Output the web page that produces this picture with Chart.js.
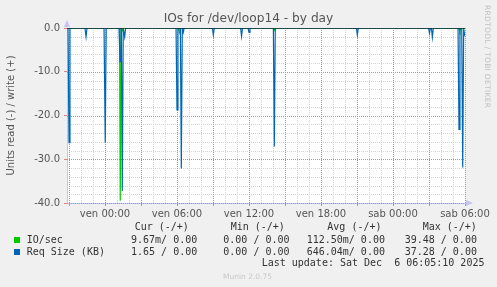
<!DOCTYPE html>
<html lang="it">
<head>
<meta charset="UTF-8">
<title>IOs for /dev/loop14 - by day</title>
<script src="https://cdn.jsdelivr.net/npm/chart.js"></script>
<style>
    body { margin: 0; background: #f0f0f0; }
    #wrap { position: relative; width: 497px; height: 287px; background: #f0f0f0; overflow: hidden; }
    #chart { position: absolute; left: 0; top: 0; }
    .txt { position: absolute; white-space: pre; font-family: "DejaVu Sans Mono", monospace; font-size: 10px; line-height: 12px; color: #333; }
    .title { position: absolute; left: 0; width: 497px; top: 11px; text-align: center; font-family: "DejaVu Sans", sans-serif; font-size: 12.2px; color: #555; }
    .rrd { position: absolute; left: 483px; top: 5px; writing-mode: vertical-rl; font-family: "DejaVu Sans", sans-serif; font-size: 7.5px; color: #c0c0c0; letter-spacing: 0.3px; }
    .munin { position: absolute; left: 223px; top: 272px; font-family: "DejaVu Sans", sans-serif; font-size: 7.5px; color: #c8c8c8; }
    .sq { position: absolute; width: 6px; height: 6px; left: 14px; }
</style>
</head>
<body>
<div id="wrap">
    <canvas id="chart" width="497" height="287"></canvas>
    <div class="title">IOs for /dev/loop14 - by day</div>
    <div class="rrd">RRDTOOL / TOBI OETIKER</div>

    <!-- legend, munin style -->
    <div class="txt" style="left:134.7px; top:221px">Cur (-/+)</div>
    <div class="txt" style="left:230.7px; top:221px">Min (-/+)</div>
    <div class="txt" style="left:327.3px; top:221px">Avg (-/+)</div>
    <div class="txt" style="left:422.7px; top:221px">Max (-/+)</div>

    <div class="sq" style="top:237px; background:#00cc00"></div>
    <div class="txt" style="left:26.7px; top:234px">IO/sec</div>
    <div class="txt" style="left:131px; top:234px">9.67m/ 0.00</div>
    <div class="txt" style="left:223.3px; top:234px">0.00 / 0.00</div>
    <div class="txt" style="left:306.7px; top:234px">112.50m/ 0.00</div>
    <div class="txt" style="left:404.7px; top:234px">39.48 / 0.00</div>

    <div class="sq" style="top:249px; background:#0066b3"></div>
    <div class="txt" style="left:26.7px; top:245.7px">Req Size (KB)</div>
    <div class="txt" style="left:131px; top:245.7px">1.65 / 0.00</div>
    <div class="txt" style="left:223.3px; top:245.7px">0.00 / 0.00</div>
    <div class="txt" style="left:306.7px; top:245.7px">646.04m/ 0.00</div>
    <div class="txt" style="left:404.7px; top:245.7px">37.28 / 0.00</div>

    <div class="txt" style="left:261.7px; top:257.3px">Last update: Sat Dec  6 06:05:10 2025</div>
    <div class="munin">Munin 2.0.75</div>
</div>

<script>
    // time axis: hours from "ven 00:00"
    const xMin = -3.167;
    const xMax = 30.0;
    const xLabelHours = [0, 6, 12, 18, 24, 30];
    const xLabels = ['ven 00:00', 'ven 06:00', 'ven 12:00', 'ven 18:00', 'sab 00:00', 'sab 06:00'];
    const yTickValues = [0, -10, -20, -30, -40];
    const yTickLabels = ['0.0', '-10.0', '-20.0', '-30.0', '-40.0'];

    // IO/sec, read side (negative)
    const ioHours = [-3.167, 1.21, 1.27, 1.35, 1.40, 1.47, 1.55, 6.12, 6.20, 6.28, 14.05, 14.13, 14.21, 29.50, 29.58, 29.66, 30.0];
    const ioValues = [0, 0, -39.48, 0, 0, -0.6, 0, 0, -1.0, 0, 0, -0.5, 0, 0, -0.8, 0, 0];

    // Req Size (KB), read side (negative)
    const reqHours = [-3.167, -3.08, -3.0, -2.92, -1.67, -1.58, -1.50, -0.08, 0.02, 0.10,
        1.17, 1.25, 1.33, 1.36, 1.44, 1.52, 1.56, 1.64, 1.72,
        5.92, 6.00, 6.08, 6.28, 6.36, 6.44, 6.46, 6.52, 6.60,
        8.95, 9.03, 9.11, 11.30, 11.38, 11.46, 11.92, 12.00, 12.08,
        14.03, 14.11, 14.19, 20.95, 21.03, 21.11,
        26.96, 27.04, 27.12, 27.20, 27.28, 27.36,
        29.42, 29.50, 29.58, 29.73, 29.81, 29.89, 29.96, 30.0];
    const reqValues = [0, 0, -26.2, 0, 0, -2.0, 0, 0, -26.2, 0,
        0, -7.7, 0, 0, -37.28, 0, 0, -2.0, 0,
        0, -18.7, 0, 0, -32.1, 0, 0, -1.0, 0,
        0, -1.6, 0, 0, -1.9, 0, 0, -1.0, 0,
        0, -27.1, 0, 0, -1.6, 0,
        0, -1.2, 0, 0, -2.1, 0,
        0, -23.2, 0, 0, -31.9, 0, -1.5, -1.2];

    const RED = '#e88080';
    const GREY = '#d4d4d4';
    const AXIS = '#c4c4f0';

    const toPoints = (xs, ys) => xs.map((x, i) => ({ x: x, y: ys[i] }));
    const isMajor = (v, step) => Math.abs(Math.round(v / step) * step - v) < 1e-6;

    // munin look: white plot canvas, dotted grid (1px dots), axis arrows
    const munin = {
        id: 'munin',
        beforeDraw(chart) {
            const a = chart.chartArea, ctx = chart.ctx;
            ctx.save();
            ctx.fillStyle = '#ffffff';
            ctx.fillRect(a.left, a.top, a.right - a.left, a.bottom - a.top);
            ctx.restore();
        },
        beforeDatasetsDraw(chart) {
            const a = chart.chartArea, ctx = chart.ctx;
            const xs = chart.scales.x, ys = chart.scales.y;
            ctx.save();
            // minor first, major on top
            [false, true].forEach(major => {
                ys.ticks.forEach(t => {
                    if (isMajor(t.value, 10) !== major) return;
                    const py = Math.round(ys.getPixelForValue(t.value));
                    ctx.fillStyle = major ? RED : GREY;
                    for (let px = Math.ceil(a.left); px < a.right; px += 2) ctx.fillRect(px, py, 1, 1);
                });
                xs.ticks.forEach(t => {
                    if (isMajor(t.value, 3) !== major) return;
                    const px = Math.round(xs.getPixelForValue(t.value));
                    ctx.fillStyle = major ? RED : GREY;
                    for (let py = Math.ceil(a.top); py < a.bottom; py += 2) ctx.fillRect(px, py, 1, 1);
                });
            });
            ctx.restore();
        },
        afterDraw(chart) {
            const a = chart.chartArea, ctx = chart.ctx;
            ctx.save();
            ctx.fillStyle = AXIS;
            ctx.beginPath();
            ctx.moveTo(a.left - 3, a.top - 1);
            ctx.lineTo(a.left + 3, a.top - 1);
            ctx.lineTo(a.left, a.top - 8);
            ctx.fill();
            ctx.beginPath();
            ctx.moveTo(a.right + 1, a.bottom - 3);
            ctx.lineTo(a.right + 1, a.bottom + 3);
            ctx.lineTo(a.right + 8, a.bottom);
            ctx.fill();
            ctx.restore();
        }
    };

    Chart.defaults.font.family = 'DejaVu Sans';
    Chart.defaults.font.size = 10;
    Chart.defaults.color = '#555';

    new Chart(document.getElementById('chart'), {
        type: 'line',
        data: {
            datasets: [{
                label: 'zero',
                data: [{ x: xMin, y: 0 }, { x: xMax, y: 0 }],
                borderColor: '#000000',
                borderWidth: 1,
                order: 0
            }, {
                label: 'Req Size (KB)',
                data: toPoints(reqHours, reqValues),
                borderColor: '#0066b3',
                borderWidth: 1.2,
                order: 1
            }, {
                label: 'IO/sec',
                data: toPoints(ioHours, ioValues),
                borderColor: '#00cc00',
                borderWidth: 1.2,
                order: 2
            }]
        },
        options: {
            responsive: false,
            animation: false,
            events: [],
            layout: { padding: { left: 0, top: 28, right: 32, bottom: 64 } },
            elements: { point: { radius: 0 }, line: { tension: 0 } },
            plugins: { legend: { display: false }, tooltip: { enabled: false } },
            scales: {
                x: {
                    type: 'linear',
                    min: xMin,
                    max: xMax,
                    afterBuildTicks(scale) {
                        const t = [];
                        for (let h = -3; h <= 30; h++) t.push({ value: h });
                        scale.ticks = t;
                    },
                    afterFit(scale) { scale.height = 20; },
                    ticks: {
                        autoSkip: false,
                        maxRotation: 0,
                        padding: 2,
                        callback(v) {
                            const i = xLabelHours.indexOf(v);
                            return i >= 0 ? xLabels[i] : '';
                        }
                    },
                    grid: {
                        drawOnChartArea: false,
                        tickColor: c => isMajor(c.tick ? c.tick.value : 0.5, 3) ? RED : 'rgba(0,0,0,0)',
                        tickLength: 3
                    },
                    border: { display: true, color: AXIS }
                },
                y: {
                    min: -40,
                    max: 0,
                    afterFit(scale) { scale.width = 67; },
                    ticks: {
                        stepSize: 2,
                        autoSkip: false,
                        padding: 4,
                        callback(v) {
                            const i = yTickValues.indexOf(v);
                            return i >= 0 ? yTickLabels[i] : '';
                        }
                    },
                    grid: {
                        drawOnChartArea: false,
                        tickColor: c => isMajor(c.tick ? c.tick.value : 0.5, 10) ? RED : 'rgba(0,0,0,0)',
                        tickLength: 3
                    },
                    border: { display: true, color: AXIS },
                    title: {
                        display: true,
                        text: 'Units read (-) / write (+)',
                        color: '#555',
                        font: { size: 10 },
                        padding: { top: 5, bottom: 0 }
                    }
                }
            }
        },
        plugins: [munin]
    });
</script>
</body>
</html>
